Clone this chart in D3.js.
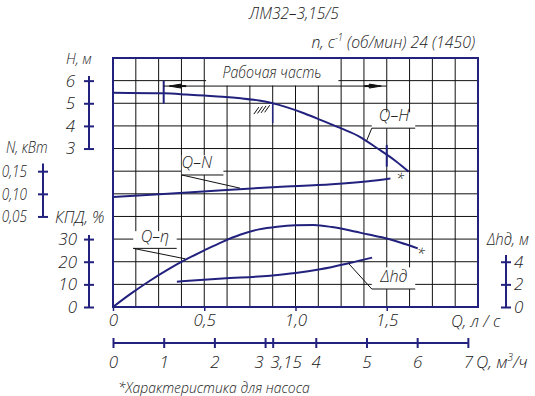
<!DOCTYPE html>
<html><head><meta charset="utf-8">
<script src="https://cdn.jsdelivr.net/npm/d3@7"></script>
<style>
body{margin:0;background:#fff}
svg text{font-family:"Open Sans","Noto Sans","Liberation Sans",sans-serif;font-style:italic;font-weight:300;fill:#222;}
</style></head><body>
<svg id="c" width="535" height="396"></svg>
<script>
// ---------- data ----------
const title = "ЛМ32–3,15/5";
const qTicks = [0, 0.5, 1.0, 1.5];
const qTickLabels = ["0", "0,5", "1,0", "1,5"];
const m3Ticks = [0, 1, 2, 3, 3.15, 4, 5, 6, 7];
const m3TickLabels = ["0", "1", "2", "3", "3,15", "4", "5", "6", "7"];
const hTicks = [3, 4, 5, 6];
const nTicks = [0.05, 0.10, 0.15];
const nTickLabels = ["0,05", "0,10", "0,15"];
const effTicks = [0, 10, 20, 30];
const dhTicks = [0, 2, 4];

// Q-H curve (Q l/s, H m)
const qH = [0, 0.28, 0.4, 0.5, 0.6, 0.7, 0.8, 0.875, 0.95, 1.05, 1.15, 1.25, 1.35, 1.45, 1.55, 1.62];
const hVals = [5.47, 5.44, 5.39, 5.34, 5.29, 5.22, 5.12, 5.0, 4.83, 4.55, 4.22, 3.89, 3.53, 3.0, 2.44, 1.98];
// Q-N curve (kW)
const qN = [0, 0.3, 0.6, 0.9, 1.2, 1.4, 1.52];
const nVals = [0.093, 0.100, 0.108, 0.115, 0.121, 0.128, 0.134];
// Q-eta curve (%)
const qEff = [0, 0.1, 0.2, 0.3, 0.4, 0.5, 0.6, 0.7, 0.8, 0.9, 1.0, 1.1, 1.2, 1.3, 1.4, 1.5, 1.6, 1.67];
const effVals = [0, 6, 11.5, 16.5, 21, 25, 28.8, 32, 34.3, 35.5, 36.1, 36.2, 35.3, 33.8, 32.0, 30.3, 27.8, 25.9];
// Q-Δhд curve (m)
const qDh = [0.35, 0.6, 0.86, 1.0, 1.135, 1.29, 1.42];
const dhVals = [2.24, 2.52, 2.77, 3.0, 3.33, 3.86, 4.36];

const workStartQ = 1 / 3.6, workEndQ = 1.5;      // working range (l/s)
const dutyQ = 3.15 / 3.6, dutyH = 5;             // duty point

// ---------- drawing ----------
const svg = d3.select("#c");
const navy = "#22227e", ink = "#111";
const L = 113, R = 478, T = 58, B = 307;

const x = d3.scaleLinear().domain([0, 2]).range([L, R]);
const xm = d3.scaleLinear().domain([0, 7.2]).range([L, R]);
const row = d3.scaleLinear().domain([0, 11]).range([T, B]);
const yH = d3.scaleLinear().domain([-4, 7]).range([B, T]);
const yN = d3.scaleLinear().domain([-0.15, 0.40]).range([B, T]);
const yE = d3.scaleLinear().domain([0, 110]).range([B, T]);
const yD = d3.scaleLinear().domain([0, 22]).range([B, T]);

// grid
const g = svg.append("g");
d3.range(1, 16).forEach(i => {
  const q = i * 0.125;
  g.append("line").attr("x1", x(q)).attr("x2", x(q)).attr("y1", T).attr("y2", B)
    .attr("stroke", ink).attr("stroke-width", 1);
});
d3.range(1, 11).forEach(i => {
  g.append("line").attr("x1", L).attr("x2", R).attr("y1", row(i)).attr("y2", row(i))
    .attr("stroke", ink).attr("stroke-width", 1);
});

// white label boxes (grid interrupted)
function box(q0, q1, y0, y1) {
  svg.append("rect").attr("x", x(q0)).attr("y", y0).attr("width", x(q1) - x(q0)).attr("height", y1 - y0)
    .attr("fill", "#fff");
}
box(0.51, 1.235, T + 1, yH(5.78));                 // Рабочая часть
box(1.418, 1.656, yH(4.6), yH(3.9));               // Q-H
box(0.377, 0.605, yN(0.185), yN(0.1416));          // Q-N
box(0.111, 0.349, yE(33.5), yE(25.9));             // Q-eta
box(1.418, 1.656, yD(3.5), yD(1.59));              // Δhд

// frame
svg.append("rect").attr("x", L).attr("y", T).attr("width", R - L).attr("height", B - T)
  .attr("fill", "none").attr("stroke", navy).attr("stroke-width", 2);

// curves
function curve(qs, vs, ys, w) {
  svg.append("path").datum(qs.map((q, i) => [q, vs[i]]))
    .attr("d", d3.line().x(d => x(d[0])).y(d => ys(d[1])).curve(d3.curveMonotoneX))
    .attr("fill", "none").attr("stroke", navy).attr("stroke-width", w || 2);
}
curve(qH, hVals, yH, 2);
curve(qN, nVals, yN, 2);
curve(qEff, effVals, yE, 2);
curve(qDh, dhVals, yD, 2);

// labels with underline + leader
function label(txt, tq, ty, uq0, uq1, uy, lq, ly) {
  svg.append("text").attr("x", x(tq)).attr("y", ty).attr("text-anchor", "middle")
    .attr("font-size", 17).attr("data-s", 0.95).text(txt);
  svg.append("path").attr("d", `M${x(uq1)},${uy}H${x(uq0)}L${x(lq)},${ly}`)
    .attr("fill", "none").attr("stroke", ink).attr("stroke-width", 1);
}
label("Q–H", 1.54, yH(4.48) + 6, 1.418, 1.656, yH(3.9), 1.39, yH(3.35));
label("Q–N", 0.459, yN(0.171) + 6, 0.377, 0.605, yN(0.1416), 0.696, yN(0.1125));
label("Q–η", 0.23, yE(31.4) + 6, 0.111, 0.349, yE(25.9), 0.395, yE(21.3));
label("Δhд", 1.54, yD(2.74) + 6, 1.418, 1.656, yD(1.59), 1.29, yD(3.86));

// stars
svg.append("text").attr("x", x(1.573)).attr("y", yN(0.138) + 7).attr("text-anchor", "middle")
  .attr("font-size", 15).attr("font-weight", "bold").text("*");
svg.append("text").attr("x", x(1.687)).attr("y", yE(24.2) + 7).attr("text-anchor", "middle")
  .attr("font-size", 15).attr("font-weight", "bold").text("*");

// working range marks
const wr = svg.append("g").attr("stroke", navy).attr("stroke-width", 2);
wr.append("line").attr("x1", x(workStartQ)).attr("x2", x(workStartQ)).attr("y1", yH(6.0)).attr("y2", yH(4.98));
wr.append("line").attr("x1", x(workEndQ)).attr("x2", x(workEndQ)).attr("y1", yH(3.16)).attr("y2", yH(2.2));
const dimY = yH(5.76);
svg.append("line").attr("x1", x(workStartQ)).attr("x2", x(workEndQ)).attr("y1", dimY).attr("y2", dimY)
  .attr("stroke", ink).attr("stroke-width", 1);
function arrow(qTip, dir) {
  const xt = x(qTip);
  svg.append("path").attr("d", `M${xt},${dimY}L${xt - dir * 12},${dimY - 2}L${xt - dir * 12},${dimY + 2}Z`)
    .attr("fill", ink).attr("stroke", ink).attr("stroke-width", 1);
  svg.append("line").attr("x1", xt - dir * 12).attr("x2", xt - dir * 17).attr("y1", dimY).attr("y2", dimY)
    .attr("stroke", ink).attr("stroke-width", 2);
}
arrow(workStartQ + 0.03, -1);
arrow(workEndQ - 0.03, 1);
svg.append("text").attr("x", x(0.6)).attr("y", 78).attr("font-size", 16).attr("data-s", 0.885).text("Рабочая часть");

// duty point symbol
svg.append("line").attr("x1", x(dutyQ)).attr("x2", x(dutyQ)).attr("y1", yH(dutyH)).attr("y2", yH(4.12))
  .attr("stroke", navy).attr("stroke-width", 1.5);
d3.range(4).forEach(i => {
  const xx = x(dutyQ) - 3 - i * 3.6, yy = yH(dutyH) + 2 + i * 0.6;
  svg.append("line").attr("x1", xx - 5).attr("y1", yy + 7).attr("x2", xx).attr("y2", yy)
    .attr("stroke", ink).attr("stroke-width", 1);
});

// ---------- axes ----------
function centerTicks(sel, half, vertical, s) {
  sel.selectAll(".tick line").attr("stroke", navy).attr("stroke-width", 2)
    .each(function () {
      if (vertical) d3.select(this).attr("x1", -half).attr("x2", half);
      else d3.select(this).attr("y1", -half).attr("y2", half);
    });
  sel.select(".domain").remove();
  sel.selectAll("text").attr("font-size", 17).attr("fill", "#222");
  if (s) sel.selectAll("text").attr("data-s", s);
}
function axisLine(x1, y1, x2, y2) {
  svg.append("line").attr("x1", x1).attr("y1", y1).attr("x2", x2).attr("y2", y2)
    .attr("stroke", navy).attr("stroke-width", 2);
}
// H
const axH = 89;
axisLine(axH, yH(6.2), axH, yH(3));
svg.append("g").attr("transform", `translate(${axH},0)`)
  .call(d3.axisLeft(yH).tickValues(hTicks).tickSize(5).tickPadding(9).tickFormat(d3.format("d")))
  .call(s => centerTicks(s, 5, true));
svg.append("text").attr("x", 66).attr("y", 64).attr("font-size", 15).attr("data-s", 0.95).text("H, м");
// N
const axN = 43;
axisLine(axN, yN(0.167), axN, yN(0.05));
svg.append("g").attr("transform", `translate(${axN},0)`)
  .call(d3.axisLeft(yN).tickValues(nTicks).tickSize(5).tickPadding(11).tickFormat((d, i) => nTickLabels[i]))
  .call(s => centerTicks(s, 5, true, 0.8));
svg.append("text").attr("x", 6).attr("y", 153).attr("font-size", 16).attr("data-s", 0.85).text("N, кВт");
// eta
const axE = 89;
axisLine(axE, yE(31.8), axE, yE(0));
svg.append("g").attr("transform", `translate(${axE},0)`)
  .call(d3.axisLeft(yE).tickValues(effTicks).tickSize(5).tickPadding(7).tickFormat(d3.format("d")))
  .call(s => centerTicks(s, 5, true));
svg.append("text").attr("x", 55).attr("y", 223).attr("font-size", 17).attr("data-s", 0.94).text("КПД, %");
// Δh
const axD = 506;
axisLine(axD, yD(4.6), axD, yD(0));
svg.append("g").attr("transform", `translate(${axD},0)`)
  .call(d3.axisRight(yD).tickValues(dhTicks).tickSize(5).tickPadding(3).tickFormat(d3.format("d")))
  .call(s => centerTicks(s, 5, true));
svg.append("text").attr("x", 487).attr("y", 245).attr("font-size", 17).attr("data-s", 0.88).text("Δhд, м");

// Q l/s axis (bottom of frame)
svg.append("g").attr("transform", `translate(0,${B})`)
  .call(d3.axisBottom(x).tickValues(qTicks).tickSize(4).tickPadding(3).tickFormat((d, i) => qTickLabels[i]))
  .call(s => { s.select(".domain").remove(); s.selectAll(".tick line").attr("stroke", navy).attr("stroke-width", 1.5);
               s.selectAll("text").attr("font-size", 17).attr("fill", "#222"); });
svg.append("text").attr("x", 451).attr("y", 327).attr("font-size", 17).attr("data-s", 0.97).text("Q, л / с");

// Q m3/h axis
const axM = 343;
axisLine(xm(0), axM, xm(7), axM);
const gm = svg.append("g").attr("transform", `translate(0,${axM})`)
  .call(d3.axisBottom(xm).tickValues(m3Ticks).tickSize(5).tickPadding(8).tickFormat((d, i) => m3TickLabels[i]))
  .call(s => centerTicks(s, 5, false));
gm.selectAll(".tick text").each(function (d) {
  if (d === 3) d3.select(this).attr("text-anchor", "end").attr("x", -2);
  if (d === 3.15) d3.select(this).attr("text-anchor", "start").attr("x", -3);
});
const qm = svg.append("text").attr("x", 476).attr("y", 368).attr("font-size", 17);
qm.append("tspan").text("Q, м");
qm.append("tspan").attr("font-size", 10).attr("dy", -7).text("3");
qm.append("tspan").attr("dy", 7).text("/ч");

// titles
svg.append("text").attr("x", 294).attr("y", 19).attr("text-anchor", "middle").attr("font-size", 16).attr("data-s", 0.97).text(title);
const sp = svg.append("text").attr("x", 475).attr("y", 48).attr("text-anchor", "end").attr("font-size", 17).attr("data-s", 0.93);
sp.append("tspan").text("n, c");
sp.append("tspan").attr("font-size", 10).attr("dy", -7).text("-1");
sp.append("tspan").attr("dy", 7).text(" (об/мин) 24 (1450)");

svg.append("text").attr("x", 118).attr("y", 393).attr("font-size", 15).attr("data-s", 0.93).text("*Характеристика для насоса");

// horizontal condensing (GOST-like narrow lettering), anchor point preserved
svg.selectAll("text").each(function () {
  const t = d3.select(this);
  const s = +t.attr("data-s") || 1;
  if (s === 1) return;
  const xv = +t.attr("x") || 0;
  t.attr("transform", `translate(${xv * (1 - s)},0) scale(${s},1)`);
});
</script>
</body></html>
